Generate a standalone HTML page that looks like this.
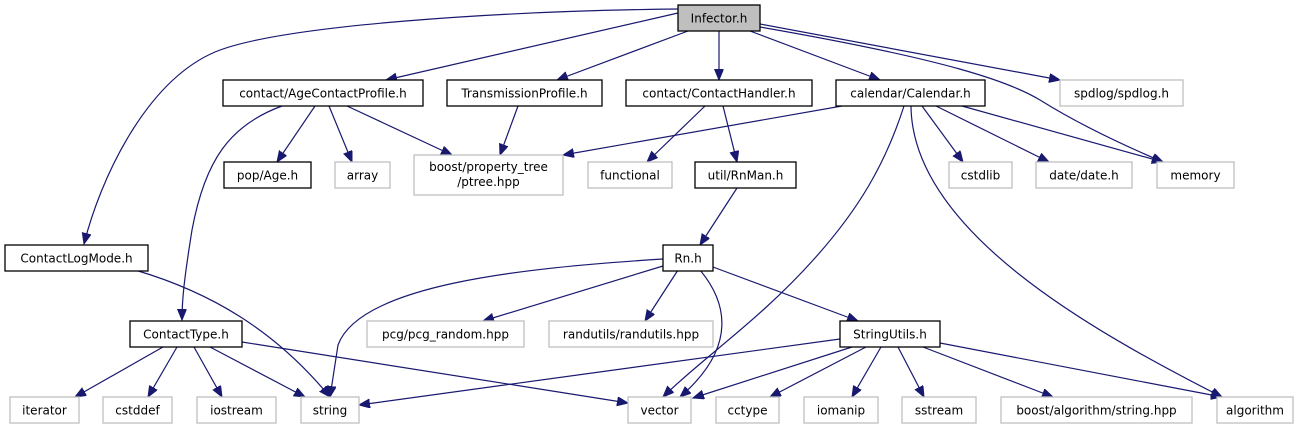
<!DOCTYPE html>
<html><head><meta charset="utf-8"><style>
html,body{margin:0;padding:0;background:#fff;}
svg{display:block;}
text{font-family:"DejaVu Sans","Liberation Sans",sans-serif;font-size:12px;fill:#000;text-anchor:middle;}
.e{fill:none;stroke:#191970;stroke-width:1.2;}
.b{fill:#fff;stroke:#000;stroke-width:1.3;}
.g{fill:#fff;stroke:#bfbfbf;stroke-width:1.3;}
</style></head><body>
<svg width="1305" height="425" viewBox="0 0 1305 425" xmlns="http://www.w3.org/2000/svg">
<defs>
<marker id="a" markerUnits="userSpaceOnUse" markerWidth="12" markerHeight="10" refX="11" refY="4.5" orient="auto">
<polygon points="0,0 11,4.5 0,9" fill="#191970" stroke="#191970"/>
</marker>
</defs>
<g marker-end="url(#a)">
<path class="e" d="M678,9 C500,11 280,25 215,52 C145,82 100,180 84,244"/>
<path class="e" d="M678,13 L386,80"/>
<path class="e" d="M688,31 L557,80"/>
<path class="e" d="M719,31 L719,80"/>
<path class="e" d="M750,31 L880,80"/>
<path class="e" d="M760,24 L1060,80"/>
<path class="e" d="M760,27 C950,60 1010,82 1040,100 C1080,125 1130,148 1163,162"/>
<path class="e" d="M282,106 C230,125 205,160 192,230 C184,280 182,300 182,320"/>
<path class="e" d="M315,106 L277,162"/>
<path class="e" d="M329,106 L352,162"/>
<path class="e" d="M347,106 L452,155"/>
<path class="e" d="M518,106 L500,155"/>
<path class="e" d="M705,106 L647,162"/>
<path class="e" d="M723,106 L737,162"/>
<path class="e" d="M842,106 L563,155"/>
<path class="e" d="M904,106 C885,165 858,210 815,258 C760,320 700,360 663,397"/>
<path class="e" d="M911,106 C912,230 1090,330 1222,397"/>
<path class="e" d="M922,106 L963,162"/>
<path class="e" d="M936,106 L1049,162"/>
<path class="e" d="M962,106 L1163,162"/>
<path class="e" d="M737,188 L700,245"/>
<path class="e" d="M663,259 C520,268 360,285 338,345 L330,397"/>
<path class="e" d="M663,266 L483,321"/>
<path class="e" d="M678,270 L645,321"/>
<path class="e" d="M700,270 C725,300 740,345 680,397"/>
<path class="e" d="M713,267 L858,321"/>
<path class="e" d="M135,270 C210,292 275,330 330,397"/>
<path class="e" d="M163,347 L75,397"/>
<path class="e" d="M177,347 L148,397"/>
<path class="e" d="M194,347 L222,397"/>
<path class="e" d="M210,347 L305,397"/>
<path class="e" d="M242,342 L628,403"/>
<path class="e" d="M840,339 L359,405"/>
<path class="e" d="M852,347 L693,398"/>
<path class="e" d="M866,347 L770,397"/>
<path class="e" d="M881,347 L852,397"/>
<path class="e" d="M898,347 L924,397"/>
<path class="e" d="M923,347 L1053,397"/>
<path class="e" d="M940,343 L1222,397"/>
</g>
<rect x="678" y="5" width="82" height="26" fill="#bfbfbf" stroke="#000" stroke-width="1.3"/><text x="719" y="22.5">Infector.h</text>
<rect class="b" x="223" y="80" width="200" height="26"/><text x="323" y="97.5">contact/AgeContactProfile.h</text>
<rect class="b" x="447" y="80" width="155" height="26"/><text x="524.5" y="97.5">TransmissionProfile.h</text>
<rect class="b" x="626" y="80" width="186" height="26"/><text x="719" y="97.5">contact/ContactHandler.h</text>
<rect class="b" x="836" y="80" width="149" height="26"/><text x="910.5" y="97.5">calendar/Calendar.h</text>
<rect class="g" x="1060" y="80" width="123" height="26"/><text x="1121.5" y="97.5">spdlog/spdlog.h</text>
<rect class="b" x="224" y="162" width="87" height="26"/><text x="267.5" y="179.5">pop/Age.h</text>
<rect class="g" x="335" y="162" width="55" height="26"/><text x="362.5" y="179.5">array</text>
<rect class="g" x="414" y="155" width="149" height="40"/><text x="488.5" y="171">boost/property_tree</text><text x="488.5" y="186">/ptree.hpp</text>
<rect class="g" x="588" y="162" width="84" height="26"/><text x="630" y="179.5">functional</text>
<rect class="b" x="695" y="162" width="101" height="26"/><text x="745.5" y="179.5">util/RnMan.h</text>
<rect class="g" x="949" y="162" width="63" height="26"/><text x="980.5" y="179.5">cstdlib</text>
<rect class="g" x="1036" y="162" width="96" height="26"/><text x="1084" y="179.5">date/date.h</text>
<rect class="g" x="1157" y="162" width="77" height="26"/><text x="1195.5" y="179.5">memory</text>
<rect class="b" x="5" y="245" width="143" height="26"/><text x="76.5" y="262.5">ContactLogMode.h</text>
<rect class="b" x="663" y="245" width="50" height="26"/><text x="688" y="262.5">Rn.h</text>
<rect class="b" x="130" y="321" width="112" height="26"/><text x="186" y="338.5">ContactType.h</text>
<rect class="g" x="367" y="321" width="157" height="26"/><text x="445.5" y="338.5">pcg/pcg_random.hpp</text>
<rect class="g" x="549" y="321" width="164" height="26"/><text x="631" y="338.5">randutils/randutils.hpp</text>
<rect class="b" x="840" y="321" width="100" height="26"/><text x="890" y="338.5">StringUtils.h</text>
<rect class="g" x="10" y="397" width="69" height="26"/><text x="44.5" y="414.5">iterator</text>
<rect class="g" x="103" y="397" width="69" height="26"/><text x="137.5" y="414.5">cstddef</text>
<rect class="g" x="197" y="397" width="79" height="26"/><text x="236.5" y="414.5">iostream</text>
<rect class="g" x="301" y="397" width="58" height="26"/><text x="330" y="414.5">string</text>
<rect class="g" x="628" y="397" width="63" height="26"/><text x="659.5" y="414.5">vector</text>
<rect class="g" x="716" y="397" width="63" height="26"/><text x="747.5" y="414.5">cctype</text>
<rect class="g" x="804" y="397" width="74" height="26"/><text x="841" y="414.5">iomanip</text>
<rect class="g" x="902" y="397" width="74" height="26"/><text x="939" y="414.5">sstream</text>
<rect class="g" x="1001" y="397" width="191" height="26"/><text x="1096.5" y="414.5">boost/algorithm/string.hpp</text>
<rect class="g" x="1217" y="397" width="76" height="26"/><text x="1255" y="414.5">algorithm</text>
</svg>
</body></html>
